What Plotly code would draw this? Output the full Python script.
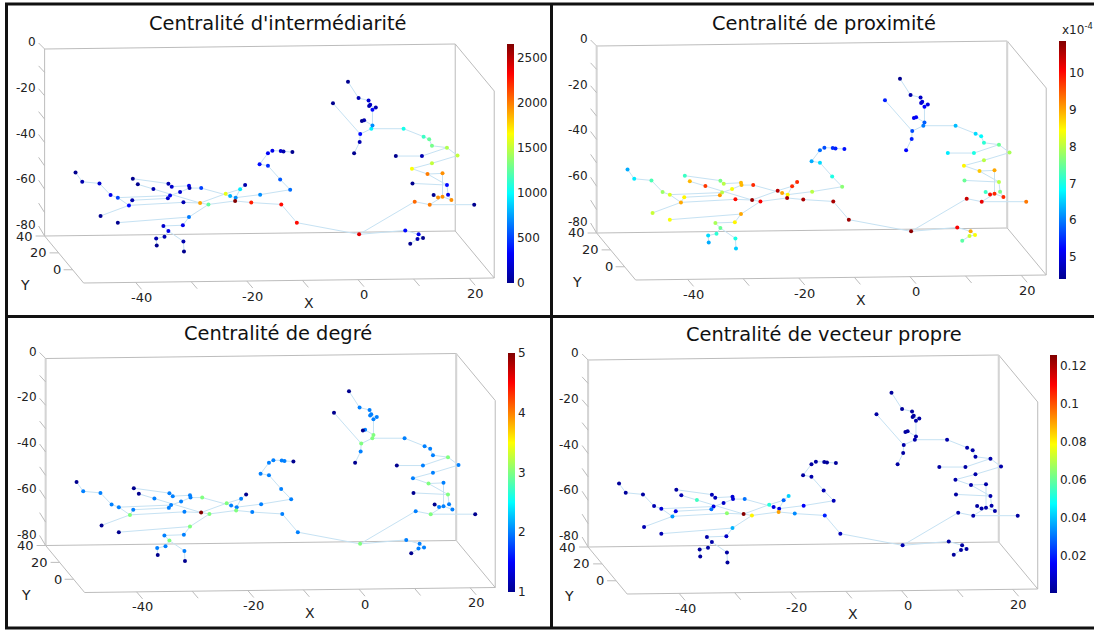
import plotly.graph_objects as go

# ---------- data ----------
node_x = [-50.8,-49.6,-46.5,-44.5,-43.2,-40.6,-41.2,-46.3,-43.2,-40.5,-39.6,-36.8,-34.1,-33.5,-30.4,-30.3,-28.2,-32.0,-33.8,-34.2,
          -31.4,-28.4,-26.9,-30.4,-31.5,-35.0,-34.1,-34.8,-36.3,-36.2,-31.4,-31.3,-23.8,-23.0,-22.0,-21.2,-20.3,-22.1,-19.2,-13.8,
          -11.0,-17.6,-12.2,-14.0,-16.2,-17.7,-16.2,-15.4,-13.9,-13.4,-11.8,0.2,8.5,10.9,10.7,11.7,9.4,10.2,12.9,20.9,
          16.8,15.2,14.4,13.6,16.2,16.0,9.8,15.2,12.5,9.7,13.3,17.9,16.0,11.5,6.8,13.3,12.8,11.8,8.2,2.4,
          2.6,0.4,0.3,-0.7,-4.5,1.1,0.7,2.6,3.2,2.2,2.0,1.9,0.1,-1.8]
node_z = [-52.8,-56.8,-57.5,-62.5,-63.6,-64.7,-66.9,-71.4,-74.3,-55.5,-57.9,-59.9,-57.6,-58.9,-58.5,-59.5,-59.5,-61.2,-62.7,-63.9,
          -65.6,-65.9,-66.5,-71.9,-75.4,-75.7,-77.9,-80.3,-81.1,-84.1,-82.3,-86.6,-61.9,-62.9,-63.6,-60.0,-58.2,-65.0,-65.7,-66.5,
          -74.3,-62.3,-60.2,-55.8,-49.9,-49.3,-44.6,-43.5,-43.6,-43.8,-44.1,-79.3,-77.6,-79.3,-81.3,-80.9,-83.3,-65.3,-66.6,-66.6,
          -64.6,-63.2,-63.5,-62.5,-62.3,-58.2,-57.5,-53.2,-53.5,-51.2,-48.9,-45.6,-42.2,-45.8,-45.8,-41.4,-38.6,-37.5,-34.1,-34.1,
          -32.7,-36.4,-39.8,-44.6,-23.2,-30.5,-30.8,-26.0,-25.0,-23.8,-24.4,-22.0,-21.0,-14.0]
edges = [(1,2),(2,3),(3,4),(4,5),(5,7),(5,19),(6,20),(6,7),(7,8),(7,21),(21,22),(9,24),(24,23),(10,13),(13,14),(14,15),(15,16),
         (16,17),(16,18),(11,12),(12,22),(18,19),(19,20),(22,23),(22,33),(33,36),(17,34),(34,35),(35,36),(36,37),(35,42),(23,38),
         (38,39),(39,40),(40,41),(41,52),(42,43),(43,44),(44,45),(45,46),(46,47),(47,48),(48,49),(49,50),(50,51),
         (24,25),(25,26),(26,27),(27,28),(28,29),(29,30),(27,31),(31,32),
         (52,53),(53,54),(54,56),(56,55),(55,57),(52,58),(58,59),(59,60),(59,62),(62,63),(63,64),(62,61),(61,65),(65,66),(66,67),
         (66,69),(68,62),(68,69),(69,70),(70,71),(71,72),(72,73),(73,74),(74,75),(73,76),(76,77),(77,78),(78,79),(79,80),(80,81),
         (80,82),(81,88),(81,86),(86,87),(82,83),(83,84),(82,85),(88,89),(89,91),(91,90),(90,92),(92,93),(93,94)]
betweenness = [0,90,180,270,500,90,350,0,0,0,0,90,90,180,270,90,500,180,270,180,
               100,1900,1250,650,270,180,270,90,90,0,90,0,1600,800,700,950,90,2650,2250,2300,
               2300,700,620,560,450,360,300,270,180,90,0,2400,350,270,90,0,0,2050,2000,0,
               1950,1950,1950,0,270,350,0,1950,2000,1650,1500,1500,1450,100,0,1300,1250,1150,1050,980,
               700,350,100,0,0,100,0,350,100,180,100,200,100,0]
closeness = [6.3,6.7,7.3,7.8,8.2,8.5,9.0,8.1,8.4,7.2,8.9,9.7,7.6,8.0,8.9,8.9,9.8,8.4,8.0,9.1,
             10.0,10.7,10.1,9.0,8.5,7.9,7.5,7.1,6.6,6.3,7.0,6.5,10.5,9.0,8.5,9.8,9.8,10.6,10.6,10.6,
             10.7,8.0,7.7,7.0,6.6,6.3,5.9,5.7,5.5,5.4,5.3,10.8,10.1,9.0,8.1,8.4,7.4,10.4,10.2,9.3,
             9.8,9.8,10.0,7.2,7.6,8.0,7.5,9.0,8.8,8.5,8.0,7.9,7.5,7.0,6.7,7.1,6.8,6.6,6.4,6.0,
             5.8,5.7,5.4,5.2,5.4,5.2,5.1,5.2,5.0,5.0,4.9,4.8,4.6,4.4]
degree = [1,2,2,2,2,2,3,1,1,1,1,2,2,2,2,2,3,2,2,2,
          2,5,3,3,2,2,3,2,2,1,2,1,3,2,2,2,1,3,2,2,
          2,2,2,2,2,2,2,2,2,2,1,3,2,2,2,2,1,2,3,1,
          2,2,2,1,2,3,1,2,3,2,2,2,3,2,1,2,2,2,2,3,
          3,3,2,1,1,2,1,2,2,2,2,2,2,1]
eigenvector = [.002,.002,.003,.005,.01,.012,.035,.005,.005,.003,.005,.055,.006,.006,.01,.01,.03,.008,.012,.03,
               .065,.125,.08,.038,.008,.004,.004,.003,.002,.002,.003,.002,.052,.012,.012,.028,.042,.09,.033,.02,
               .006,.015,.006,.005,.004,.003,.003,.003,.002,.002,.002,.005,.003,.003,.003,.003,.002,.004,.004,.003,
               .004,.004,.004,.003,.004,.004,.003,.004,.004,.004,.004,.004,.004,.003,.003,.004,.004,.004,.004,.004,
               .004,.004,.003,.003,.003,.003,.003,.004,.003,.003,.003,.003,.002,.002]

titles = ["Centralité d'intermédiarité", "Centralité de proximité", "Centralité de degré", "Centralité de vecteur propre"]
x_ticks = [-40, -30, -20, -10, 0, 10, 20]
x_labels = ["-40", "", "-20", "", "0", "", "20"]
y_ticks = [40, 20, 0]
y_labels = ["40", "20", "0"]
z_ticks = [0, -10, -20, -30, -40, -50, -60, -70, -80]
z_labels = ["0", "", "-20", "", "-40", "", "-60", "", "-80"]
cb_ticks = [[0,500,1000,1500,2000,2500], [5,6,7,8,9,10], [1,2,3,4,5], [.02,.04,.06,.08,.1,.12]]
cb_text = [["0","500","1000","1500","2000","2500"], ["5","6","7","8","9","10"], ["1","2","3","4","5"],
           ["0.02","0.04","0.06","0.08","0.1","0.12"]]
cb_range = [(0,2655), (4.4,10.87), (1,5), (0.0003,0.1258)]
series = [betweenness, closeness, degree, eigenvector]

# ---------- layout constants ----------
W, H = 1094, 630
SX, SZ = 5.56, 2.3375          # pixels per axis unit
OX, OZ = 358, 49               # pixel of u=0, v=0 in panel 1
offsets = [(0,0), (552,-3), (1,309.5), (543.5,311)]
win = (8, 505, 30, 312)        # plot window in panel 1 pixels
cb_pos = [(507,44,283), (1059,41,279), (508,353,592), (1050,355,593)]
title_pos = [(277.5,24), (824,24), (278,333.5), (823.5,334)]
XMIN, XMAX, YMIN, YMAX, ZMIN, ZMAX = -49.35, 24.5, -15.7, 40, -80, 0
JET = [[0,"rgb(0,0,143)"],[.125,"rgb(0,0,255)"],[.375,"rgb(0,255,255)"],[.625,"rgb(255,255,0)"],[.875,"rgb(255,0,0)"],[1,"rgb(128,0,0)"]]
FONT = "DejaVu Sans"
GRID = "#bcbcbc"

def proj(x, y, z, ox=0, oy=0):
    """3-D axis position + pixel nudge -> plane coordinates of the panel."""
    u = x - 0.70 * (y - YMIN) / SX + ox / SX
    v = z + (0.844 * (y - YMAX) + 0.0677 * (x - XMIN)) / SZ - oy / SZ
    return u, v

def poly(points):
    xs, ys = [], []
    for p in points:
        if p is None:
            xs.append(None); ys.append(None)
        else:
            u, v = proj(*p)
            xs.append(u); ys.append(v)
    return xs, ys

fig = go.Figure()
layout = dict(width=W, height=H, margin=dict(l=0, r=0, t=0, b=0), paper_bgcolor="white", plot_bgcolor="rgba(0,0,0,0)",
              showlegend=False, font=dict(family=FONT, color="#222"))
annots = []
for i in range(4):
    s = "" if i == 0 else str(i + 1)
    xa, ya = "x" + s, "y" + s
    dx, dy = offsets[i]
    layout["xaxis" + s] = dict(domain=[(win[0]+dx)/W, (win[1]+dx)/W], range=[(win[0]-OX)/SX, (win[1]-OX)/SX],
                               visible=False, anchor=ya)
    layout["yaxis" + s] = dict(domain=[1-(win[3]+dy)/H, 1-(win[2]+dy)/H], range=[(OZ-win[3])/SZ, (OZ-win[2])/SZ],
                               visible=False, anchor=xa)
    # box frame
    bx = [(XMIN,YMAX,ZMAX),(XMAX,YMAX,ZMAX),(XMAX,YMAX,ZMIN),(XMIN,YMAX,ZMIN),(XMIN,YMAX,ZMAX),None,
          (XMIN,YMAX,ZMIN),(XMIN,YMIN,ZMIN),(XMAX,YMIN,ZMIN),(XMAX,YMAX,ZMIN),None,
          (XMAX,YMIN,ZMIN),(XMAX,YMIN,ZMAX),(XMAX,YMAX,ZMAX)]
    fx, fy = poly(bx)
    fig.add_trace(go.Scatter(x=fx, y=fy, xaxis=xa, yaxis=ya, mode="lines", line=dict(color=GRID, width=1), hoverinfo="skip"))
    # heavier back vertical edges (seen in panels 2-4)
    if i > 0:
        wx, wy = poly([(XMIN,YMAX,ZMAX),(XMIN,YMAX,ZMIN),None,(XMAX,YMAX,ZMAX),(XMAX,YMAX,ZMIN)])
        fig.add_trace(go.Scatter(x=wx, y=wy, xaxis=xa, yaxis=ya, mode="lines", line=dict(color="#d4d4d4", width=2), hoverinfo="skip"))
    # ticks
    tx, ty = [], []
    for t in x_ticks:
        a = proj(t, YMIN, ZMIN); b = proj(t, YMIN, ZMIN, 6, 7)
        tx += [a[0], b[0], None]; ty += [a[1], b[1], None]
    for t in y_ticks:
        a = proj(XMIN, t, ZMIN); b = proj(XMIN, t, ZMIN, -9, 0)
        tx += [a[0], b[0], None]; ty += [a[1], b[1], None]
    for t in z_ticks:
        a = proj(XMIN, YMAX, t); b = proj(XMIN, YMAX, t, -6, -6 + 4 * t / 80)
        tx += [a[0], b[0], None]; ty += [a[1], b[1], None]
    fig.add_trace(go.Scatter(x=tx, y=ty, xaxis=xa, yaxis=ya, mode="lines", line=dict(color=GRID, width=1), hoverinfo="skip"))
    # tick labels
    lab = [proj(t, YMIN, ZMIN, 6, 15) for t in x_ticks]
    annots += [dict(x=p[0], y=p[1], xref=xa, yref=ya, text=l, showarrow=False, xanchor="center", yanchor="middle",
                    font=dict(size=13, family=FONT, color="#222")) for p, l in zip(lab, x_labels) if l]
    lab = [proj(XMIN, t, ZMIN, -10, 0) for t in y_ticks]
    annots += [dict(x=p[0], y=p[1], xref=xa, yref=ya, text=l, showarrow=False, xanchor="right", yanchor="middle",
                    font=dict(size=13, family=FONT, color="#222")) for p, l in zip(lab, y_labels)]
    lab = [proj(XMIN, YMAX, t, -7, -7 + 4 * t / 80) for t in z_ticks]
    annots += [dict(x=p[0], y=p[1], xref=xa, yref=ya, text=l, showarrow=False, xanchor="right", yanchor="middle",
                    font=dict(size=12, family=FONT, color="#222")) for p, l in zip(lab, z_labels) if l]
    # axis letters
    annots.append(dict(x=(309+dx)/W, y=1-(303+dy)/H, xref="paper", yref="paper", text="X", showarrow=False,
                       xanchor="center", yanchor="middle", font=dict(size=14, family=FONT, color="#222")))
    annots.append(dict(x=(25+dx)/W, y=1-(285+dy)/H, xref="paper", yref="paper", text="Y", showarrow=False,
                       xanchor="center", yanchor="middle", font=dict(size=14, family=FONT, color="#222")))
    # edges
    ex, ey = [], []
    for a, b in edges:
        ex += [node_x[a-1], node_x[b-1], None]
        ey += [node_z[a-1], node_z[b-1], None]
    fig.add_trace(go.Scatter(x=ex, y=ey, xaxis=xa, yaxis=ya, mode="lines", line=dict(color="#c6e2f3", width=1), hoverinfo="skip"))
    # nodes
    fig.add_trace(go.Scatter(x=node_x, y=node_z, xaxis=xa, yaxis=ya, mode="markers",
                             marker=dict(size=4, color=series[i], coloraxis="coloraxis" + s, line=dict(width=0))))
    cx, ct, cb = cb_pos[i]
    layout["coloraxis" + s] = dict(colorscale=JET, cmin=cb_range[i][0], cmax=cb_range[i][1],
        colorbar=dict(x=cx/W, xanchor="left", xpad=0, ypad=0, y=1-cb/H, yanchor="bottom", lenmode="pixels", len=cb-ct,
                      thicknessmode="pixels", thickness=7, outlinewidth=0, ticks="", ticklen=0,
                      tickvals=cb_ticks[i], ticktext=cb_text[i], tickfont=dict(size=12, family=FONT, color="#222")))
    annots.append(dict(x=title_pos[i][0]/W, y=1-title_pos[i][1]/H, xref="paper", yref="paper", text=titles[i], showarrow=False,
                       xanchor="center", yanchor="middle", font=dict(size=19.4, family=FONT, color="#111")))

annots.append(dict(x=1060/W, y=1-29/H, xref="paper", yref="paper", text="x10<sup>-4</sup>", showarrow=False,
                   xanchor="left", yanchor="middle", font=dict(size=12, family=FONT, color="#222")))

def hline(y):
    return dict(type="line", xref="paper", yref="paper", x0=5/W, x1=1, y0=1-y/H, y1=1-y/H, line=dict(color="#111", width=3))
def vline(x):
    return dict(type="line", xref="paper", yref="paper", x0=x/W, x1=x/W, y0=1-629/H, y1=1-3/H, line=dict(color="#111", width=3))
layout["shapes"] = [hline(4), hline(316.5), hline(628), vline(6.5), vline(551.5)]
layout["annotations"] = annots
fig.update_layout(**layout)
fig.write_html("out.html", config={"displayModeBar": False}, post_script="document.body.style.margin='0';")
